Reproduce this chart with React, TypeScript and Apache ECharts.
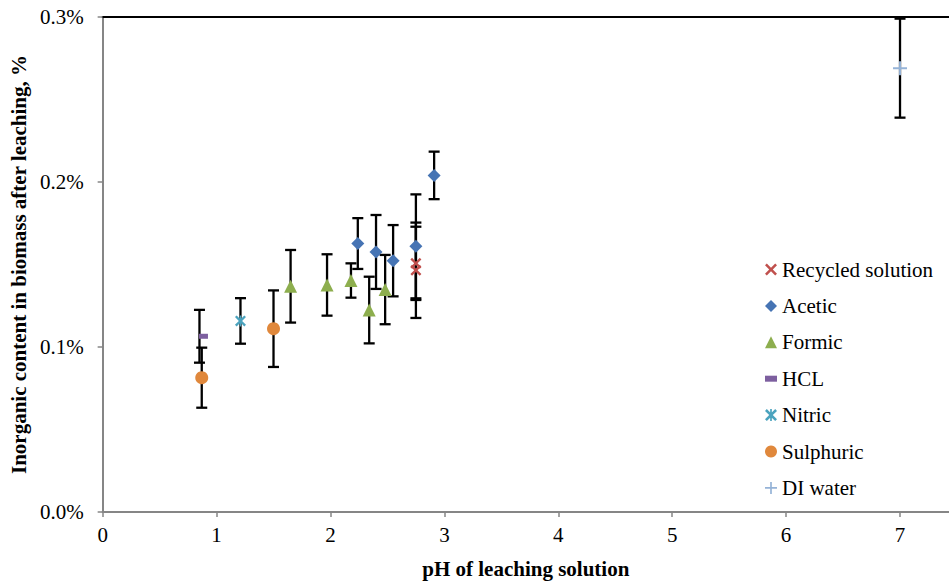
import React, { useEffect, useRef } from "react";
import * as echarts from "echarts";

// pH of leaching solution (x) and inorganic content after leaching in % (y), with ± error
const recycledPH = [2.75, 2.75];
const recycledVal = [0.1507, 0.1465];
const recycledErr = [0.0222, 0.0289];

const aceticPH = [2.24, 2.4, 2.55, 2.75, 2.91];
const aceticVal = [0.1627, 0.1576, 0.1523, 0.161, 0.204];
const aceticErr = [0.0154, 0.0224, 0.0216, 0.0315, 0.0144];

const formicPH = [1.65, 1.97, 2.18, 2.34, 2.48];
const formicVal = [0.1368, 0.1376, 0.1403, 0.1224, 0.1348];
const formicErr = [0.022, 0.0186, 0.0104, 0.0202, 0.021];

const hclPH = [0.85];
const hclVal = [0.1065];
const hclErr = [0.016];

const nitricPH = [1.21];
const nitricVal = [0.1158];
const nitricErr = [0.0138];

const sulphuricPH = [0.87, 1.5];
const sulphuricVal = [0.0814, 0.1111];
const sulphuricErr = [0.0182, 0.0232];

const diPH = [7.0];
const diVal = [0.269];
const diErr = [0.03];

const yTicks = [0, 0.1, 0.2, 0.3];
const xTicks = [0, 1, 2, 3, 4, 5, 6, 7];

const FONT = "'Liberation Serif', 'Times New Roman', serif";

const D_X = "M0,1.5 L1.5,0 L5,3.5 L8.5,0 L10,1.5 L6.5,5 L10,8.5 L8.5,10 L5,6.5 L1.5,10 L0,8.5 L3.5,5 Z";
const D_STAR = D_X + " M4.3,0 L5.7,0 L5.7,10 L4.3,10 Z";
const D_PLUS = "M4.3,0 L5.7,0 L5.7,4.3 L10,4.3 L10,5.7 L5.7,5.7 L5.7,10 L4.3,10 L4.3,5.7 L0,5.7 L0,4.3 L4.3,4.3 Z";
const D_DASH = "M0,0 L10,0 L10,5 L0,5 Z";

type Group = {
  name: string;
  ph: number[];
  val: number[];
  err: number[];
  color: string;
  symbol: string;
  size: number | number[];
  offset?: number[];
  icon: string;
};

const groups: Group[] = [
  { name: "Recycled solution", ph: recycledPH, val: recycledVal, err: recycledErr, color: "#C0504D", symbol: "path://" + D_X, size: 11, icon: "path://" + D_X },
  { name: "Acetic", ph: aceticPH, val: aceticVal, err: aceticErr, color: "#4674B4", symbol: "diamond", size: 13, icon: "diamond" },
  { name: "Formic", ph: formicPH, val: formicVal, err: formicErr, color: "#8DAE4E", symbol: "triangle", size: 13, icon: "triangle" },
  { name: "HCL", ph: hclPH, val: hclVal, err: hclErr, color: "#7D5F9F", symbol: "rect", size: [9, 5], offset: [4, 0], icon: "path://" + D_DASH },
  { name: "Nitric", ph: nitricPH, val: nitricVal, err: nitricErr, color: "#4BA3BE", symbol: "path://" + D_STAR, size: 11, icon: "path://" + D_STAR },
  { name: "Sulphuric", ph: sulphuricPH, val: sulphuricVal, err: sulphuricErr, color: "#E0883C", symbol: "circle", size: 13, icon: "circle" },
  { name: "DI water", ph: diPH, val: diVal, err: diErr, color: "#95B3D7", symbol: "path://" + D_PLUS, size: 14, icon: "path://" + D_PLUS },
];

export default function App() {
  const ref = useRef<HTMLDivElement>(null);

  useEffect(() => {
    if (!ref.current) return;
    const chart = echarts.init(ref.current, undefined, { renderer: "svg" });

    const errData: number[][] = [];
    groups.forEach((g) =>
      g.ph.forEach((x, i) => errData.push([x, g.val[i] - g.err[i], g.val[i] + g.err[i]]))
    );

    const scatterSeries = groups.map((g) => ({
      type: "scatter",
      name: g.name,
      data: g.ph.map((x, i) => [x, g.val[i]]),
      symbol: g.symbol,
      symbolSize: g.size,
      symbolOffset: g.offset || [0, 0],
      itemStyle: { color: g.color, opacity: 1 },
      z: 5,
      silent: true,
    }));

    const legendText = { fontFamily: FONT, fontSize: 21, color: "#000", lineHeight: 21 };

    const option: any = {
      animation: false,
      backgroundColor: "#fff",
      textStyle: { fontFamily: FONT },
      grid: { left: 101, top: 17, width: 848, height: 495 },
      legend: {
        orient: "vertical",
        left: 765,
        top: 259,
        padding: 0,
        itemWidth: 12,
        itemHeight: 12,
        itemGap: 15.4,
        textStyle: legendText,
        data: groups.map((g) => ({ name: g.name, icon: g.icon, itemStyle: { color: g.color } })),
        selectedMode: false,
      },
      xAxis: [
        {
          type: "value",
          min: 0,
          max: 7.43,
          interval: 1,
          splitLine: { show: false },
          axisLine: { lineStyle: { color: "#868686", width: 2 } },
          axisTick: { show: true, length: 5, lineStyle: { color: "#868686", width: 1.5 } },
          axisLabel: {
            fontFamily: FONT,
            fontSize: 21,
            color: "#000",
            margin: 12,
            showMaxLabel: false,
            formatter: (v: number) => (xTicks.includes(v) ? String(v) : ""),
          },
          name: "pH of leaching solution",
          nameLocation: "middle",
          nameGap: 46,
          nameTextStyle: { fontFamily: FONT, fontSize: 21, fontWeight: "bold", color: "#000" },
        },
        {
          type: "value",
          position: "top",
          min: 0,
          max: 7.43,
          interval: 1,
          splitLine: { show: false },
          axisLine: { lineStyle: { color: "#000", width: 2 } },
          axisTick: { show: false },
          axisLabel: { show: false },
        },
      ],
      yAxis: {
        type: "value",
        min: 0,
        max: 0.3,
        interval: 0.1,
        splitLine: { show: false },
        axisLine: { show: true, lineStyle: { color: "#868686", width: 2 } },
        axisTick: { show: true, length: 5, lineStyle: { color: "#868686", width: 1.5 } },
        axisLabel: {
          fontFamily: FONT,
          fontSize: 21,
          color: "#000",
          margin: 19,
          formatter: (v: number) => {
            const t = yTicks.find((k) => Math.abs(k - v) < 1e-9);
            return t === undefined ? "" : t.toFixed(1) + "%";
          },
        },
        name: "Inorganic content in biomass after leaching, %",
        nameLocation: "middle",
        nameRotate: 90,
        nameGap: 71,
        nameTextStyle: { fontFamily: FONT, fontSize: 21, fontWeight: "bold", color: "#000" },
      },
      series: [
        {
          type: "custom",
          name: "errors",
          data: errData,
          z: 3,
          silent: true,
          clip: false,
          renderItem: (_params: any, api: any) => {
            const x = api.value(0);
            const lo = api.value(1);
            const hi = api.value(2);
            const top = api.coord([x, hi]);
            const bot = api.coord([x, lo]);
            const hw = 5.5;
            const st = { stroke: "#000", lineWidth: 2.3 };
            return {
              type: "group",
              children: [
                { type: "line", shape: { x1: top[0], y1: top[1], x2: bot[0], y2: bot[1] }, style: st },
                { type: "line", shape: { x1: top[0] - hw, y1: top[1], x2: top[0] + hw, y2: top[1] }, style: st },
                { type: "line", shape: { x1: bot[0] - hw, y1: bot[1], x2: bot[0] + hw, y2: bot[1] }, style: st },
              ],
            };
          },
        },
        ...scatterSeries,
      ],
    };

    chart.setOption(option);
    return () => chart.dispose();
  }, []);

  return (
    <div
      ref={ref}
      style={{ position: "fixed", left: 0, top: 0, width: 949, height: 588, background: "#fff" }}
    />
  );
}
